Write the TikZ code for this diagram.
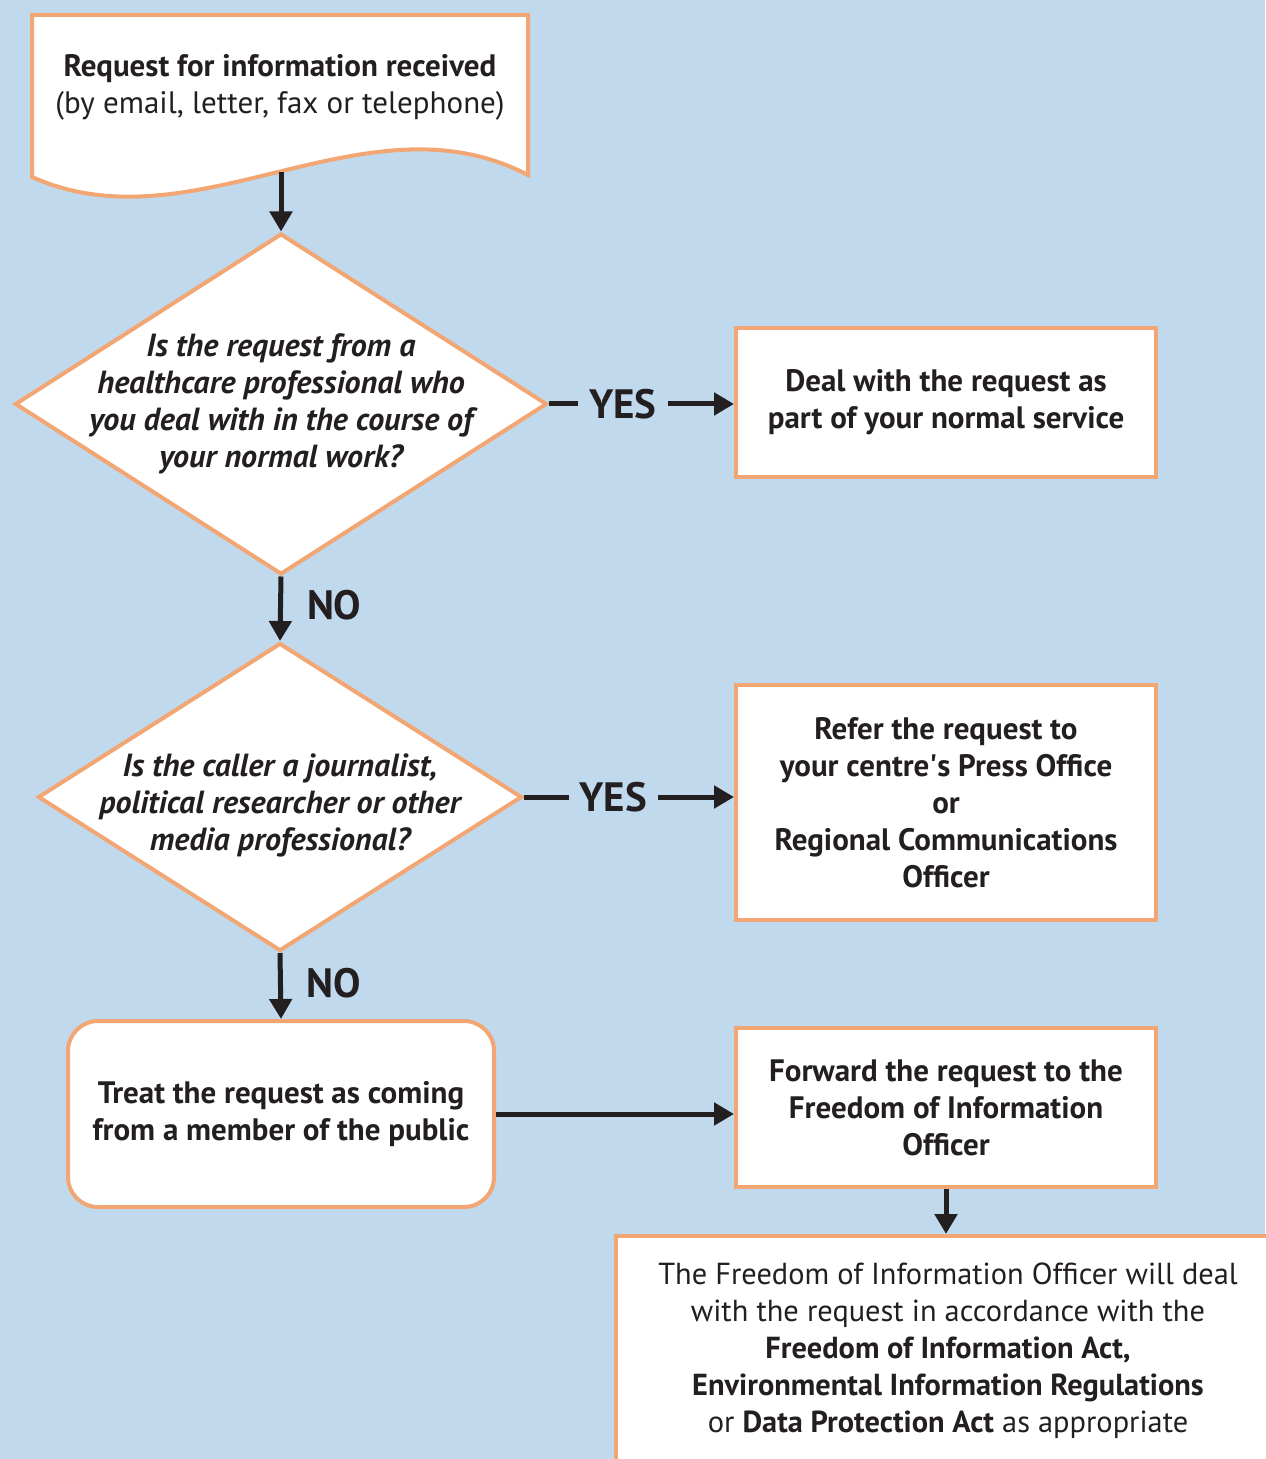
\documentclass[tikz,border=0pt]{standalone}
\usepackage{fontspec}
\setmainfont{PT Sans}
\usetikzlibrary{positioning, arrows.meta, calc, shapes.geometric}
\definecolor{FOIblue}{RGB}{193, 217, 236}
\definecolor{FOIorange}{RGB}{242, 166, 116}
\definecolor{FOIblack}{RGB}{35, 31, 32}
\tikzset{
  comp/.style={rectangle, draw=FOIorange, line width=2pt, fill=white, align=center,
    inner sep=2pt, text=FOIblack, font=\fontsize{15.5}{18.5}\selectfont\bfseries},
  decision/.style={diamond, draw=FOIorange, line width=2pt, fill=white, inner sep=0pt},
  qtext/.style={align=center, text=FOIblack, font=\fontsize{16}{18.5}\selectfont\bfseries\itshape},
  ans/.style={text=FOIblack, inner sep=0pt, font=\fontsize{20.5}{22}\selectfont\bfseries},
  flow/.style={-{Triangle[length=10pt,width=11pt]}, line width=2.5pt, FOIblack},
}
\begin{document}
\begin{tikzpicture}[x=0.5pt, y=-0.5pt]
    \fill[FOIblue] (0,0) rectangle (1265,1459);
    \useasboundingbox (0,0) rectangle (1265,1459);
    % document shape with wavy bottom
    \draw[FOIorange, line width=2pt, fill=white] (32,15) -- (528,15) -- (528,175)
      .. controls (365,90) and (195,250) .. (32,177) -- cycle;
    \node[align=center, text=FOIblack, font=\fontsize{15.5}{18.5}\selectfont] (req) at (280,87)
      {\textbf{Request for information received}\\(by email, letter, fax or telephone)};
    \coordinate (reqbot) at (281,172);
    \node[decision, minimum width=266pt, minimum height=170.5pt,
      label={[qtext]center:{Is the request from a\\healthcare professional who\\you deal with in the course of\\your normal work?}}] (q1) at (281,404) {};
    \node[comp, minimum width=210pt, minimum height=74.5pt] (normal) at (946,402.5)
      {Deal with the request as\\part of your normal service};
    \node[decision, minimum width=242pt, minimum height=154pt,
      label={[qtext, yshift=-4pt]center:{Is the caller a journalist,\\political researcher or other\\media professional?}}] (q2) at (280,797) {};
    \node[comp, minimum width=210pt, minimum height=117.5pt] (press) at (946,802.5)
      {Refer the request to\\your centre\textquotesingle s Press Office\\or\\Regional Communications\\Officer};
    \node[comp, rounded corners=15pt, minimum width=213pt, minimum height=93pt] (public) at (281,1114)
      {Treat the request as coming\\from a member of the public};
    \node[comp, minimum width=210pt, minimum height=79.5pt] (foi) at (946,1107.5)
      {Forward the request to the\\Freedom of Information\\Officer};
    \node[comp, minimum width=332pt, minimum height=115pt, font=\fontsize{15.2}{18.5}\selectfont\mdseries] (final) at (948,1351)
      {The Freedom of Information Officer will deal\\with the request in accordance with the\\
       \textbf{Freedom of Information Act,}\\\textbf{Environmental Information Regulations}\\
       or \textbf{Data Protection Act} as appropriate};
    \draw[flow] (reqbot)--(q1.north);
    \draw[flow] (q1.east)-- node[ans, fill=FOIblue, inner xsep=5.5pt, pos=.4]{YES} (q1.east -| normal.west);
    \draw[flow] (q1.south)-- node[ans, right=12pt, pos=.45]{NO} (q2.north);
    \draw[flow] (q2.east)-- node[ans, fill=FOIblue, inner xsep=5.5pt, pos=.425]{YES} (q2.east -| press.west);
    \draw[flow] (q2.south)-- node[ans, right=12pt, pos=.45]{NO} (public.north);
    \draw[flow] (public.east)--(public.east -| foi.west);
    \draw[flow] (foi.south)--(foi.south |- final.north);
\end{tikzpicture}
\end{document}
